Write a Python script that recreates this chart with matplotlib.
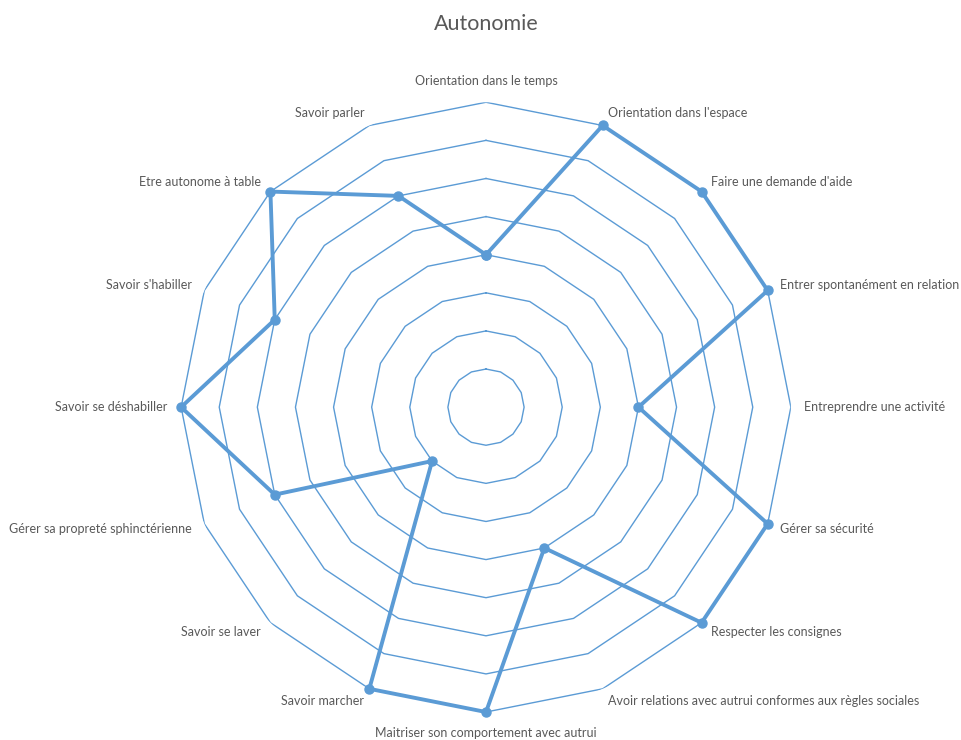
import numpy as np
import matplotlib.pyplot as plt

# Données du radar "Autonomie"
categories = [
    "Orientation dans le temps",
    "Orientation dans l'espace",
    "Faire une demande d'aide",
    "Entrer spontanément en relation",
    "Entreprendre une activité",
    "Gérer sa sécurité",
    "Respecter les consignes",
    "Avoir relations avec autrui conformes aux règles sociales",
    "Maitriser son comportement avec autrui",
    "Savoir marcher",
    "Savoir se laver",
    "Gérer sa propreté sphinctérienne",
    "Savoir se déshabiller",
    "Savoir s'habiller",
    "Etre autonome à table",
    "Savoir parler",
]
valeurs = [4, 8, 8, 8, 4, 8, 8, 4, 8, 8, 2, 6, 8, 6, 8, 6]
niveaux = [1, 2, 3, 4, 5, 6, 7, 8]

BLEU = "#5B9BD5"
GRIS = "#595959"
plt.rcParams['font.family'] = ['Lato', 'DejaVu Sans']

n = len(categories)
angles = np.linspace(0, 2 * np.pi, n, endpoint=False)
angles_f = np.append(angles, angles[0])

fig = plt.figure(figsize=(9.62, 7.4), dpi=100)
ax = fig.add_axes([0.1882, 0.0378, 0.634, 0.824], projection='polar')
ax.set_theta_zero_location('N')
ax.set_theta_direction(-1)
ax.set_ylim(0, niveaux[-1])
ax.grid(False)
ax.spines['polar'].set_visible(False)
ax.set_xticks([])
ax.set_yticks([])

# anneaux polygonaux
for r in niveaux:
    ax.plot(angles_f, [r] * (n + 1), color=BLEU, lw=1.0, zorder=1)

# série
vals_f = valeurs + valeurs[:1]
ax.plot(angles_f, vals_f, color=BLEU, lw=2.8, marker='o', markersize=6.5,
        solid_joinstyle='round', zorder=3, clip_on=False)

# étiquettes des catégories
r_lab = niveaux[-1] + 0.35
for a, lab in zip(angles, categories):
    s = np.sin(a)
    c = np.cos(a)
    if abs(s) < 0.01:
        ha = 'center'
        va = 'bottom' if c > 0 else 'top'
        rr = niveaux[-1] + 0.4
    else:
        ha = 'left' if s > 0 else 'right'
        va = 'center'
        rr = r_lab
    ax.text(a, rr, lab, ha=ha, va=va, fontsize=9, color=GRIS)

fig.text(0.5052, 0.968, "Autonomie", ha='center', va='center', fontsize=15.5, color=GRIS)

fig.savefig("out.png", dpi=100)
